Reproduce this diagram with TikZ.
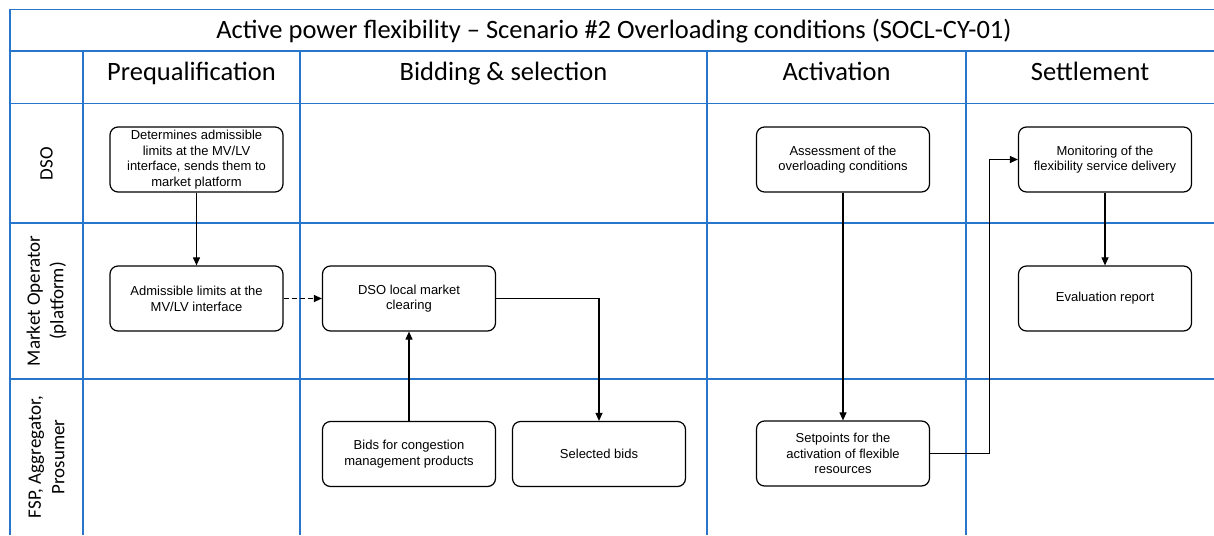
\documentclass[tikz,border=0pt]{standalone}
\usepackage{fontspec}
\setmainfont{Carlito}
\newfontfamily\boxfont{Liberation Sans}
\usetikzlibrary{arrows.meta}
\definecolor{gridblue}{RGB}{40,118,204}
\begin{document}
\begin{tikzpicture}[x=1pt,y=-1pt,
  lane/.style={draw=gridblue,line width=1.5pt},
  task/.style={draw=black,line width=1.2pt,rounded corners=8pt,
    minimum width=173pt,minimum height=65pt,inner sep=2pt,align=center,
    font=\boxfont\fontsize{13}{15.7}\selectfont},
  flow/.style={-{Triangle[length=8pt,width=7pt]},line width=1.1pt},
  titletext/.style={anchor=base,inner sep=0pt,font=\fontsize{26.5}{30}\selectfont},
  phasetext/.style={anchor=base,inner sep=0pt,font=\fontsize{26.5}{30}\selectfont},
  roletext/.style={rotate=90,align=center,font=\fontsize{19}{23.5}\selectfont}
]
\useasboundingbox (0,0) rectangle (1214,535);

% swimlane grid
\draw[lane] (10,535) -- (10,9.5) -- (1214,9.5);
\draw[lane] (10,51) -- (1214,51);
\draw[lane] (10,103.5) -- (1214,103.5);
\draw[lane] (10,223) -- (1214,223);
\draw[lane] (10,379) -- (1214,379);
\foreach \cx in {83,300,707,966}
  \draw[lane] (\cx,51) -- (\cx,535);

% title, phases and roles
\node[titletext] (title) at (614,39) {Active power flexibility -- Scenario \#2 Overloading conditions (SOCL-CY-01)};
\node[phasetext] (pq) at (191.5,80) {Prequalification};
\node[phasetext] (bs) at (503.5,80) {Bidding \& selection};
\node[phasetext] (ac) at (836.5,80) {Activation};
\node[phasetext] (st) at (1090,80) {Settlement};
\node[roletext] (dso) at (46.5,163.5) {DSO};
\node[roletext] (mo) at (46.5,301) {Market Operator\\(platform)};
\node[roletext] (fsp) at (46.5,457) {FSP, Aggregator,\\Prosumer};

% tasks
\node[task] (limits) at (196.5,159.5) {Determines admissible\\limits at the MV/LV\\interface, sends them to\\market platform};
\node[task] (adm) at (196.5,298.5) {Admissible limits at the\\MV/LV interface};
\node[task] (clear) at (409,298.5) {DSO local market\\clearing};
\node[task] (bids) at (409,454) {Bids for congestion\\management products};
\node[task] (sel) at (599,454) {Selected bids};
\node[task] (assess) at (843,159.5) {Assessment of the\\overloading conditions};
\node[task] (setp) at (843,453.5) {Setpoints for the\\activation of flexible\\resources};
\node[task] (mon) at (1105,159.5) {Monitoring of the\\flexibility service delivery};
\node[task] (eval) at (1105,298.5) {Evaluation report};

% connectors
\draw[flow] (limits.south) -- (adm.north);
\draw[flow,dash pattern=on 5pt off 3pt] (adm.east) -- (clear.west);
\draw[flow] (bids.north) -- (clear.south);
\draw[flow] (clear.east) -| (sel.north);
\draw[flow] (assess.south) -- (setp.north);
\draw[flow] (setp.east) -- ++(59,0) |- (mon.west);
\draw[flow] (mon.south) -- (eval.north);
\end{tikzpicture}
\end{document}
